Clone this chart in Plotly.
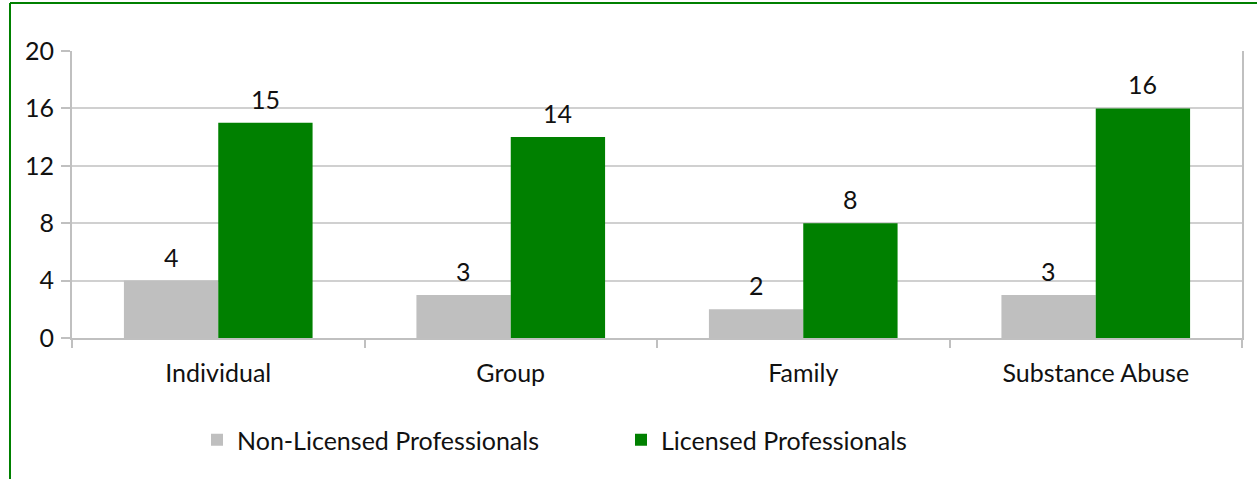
import plotly.graph_objects as go

categories = ["Individual", "Group", "Family", "Substance Abuse"]
non_licensed = [4, 3, 2, 3]
licensed = [15, 14, 8, 16]
y_ticks = [0, 4, 8, 12, 16, 20]

GREY = "#BFBFBF"
GREEN = "#008000"
AXIS = "#C0C0C0"
FONT = "Lato"
FS = 25
TXT = dict(family=FONT, size=FS, color="#111", weight=400)

W, H = 1257, 479
ML, MR, MT, MB = 72, 15, 51, 141
pw, ph = W - ML - MR, H - MT - MB
BAR_HALF = 47  # half of one bar's pixel width within a group

def px_x(x):
    return (x - ML) / pw

def px_y(y):
    return (H - MB - y) / ph

fig = go.Figure()
fig.add_bar(
    x=categories, y=non_licensed, name="Non-Licensed Professionals",
    marker=dict(color=GREY, line=dict(width=0)),
)
fig.add_bar(
    x=categories, y=licensed, name="Licensed Professionals",
    marker=dict(color=GREEN, line=dict(width=0)),
)

# value labels above each bar
for values, shift in ((non_licensed, -BAR_HALF), (licensed, BAR_HALF)):
    for cat, v in zip(categories, values):
        fig.add_annotation(
            x=cat, y=v, text=str(v), showarrow=False,
            xshift=shift, yshift=7, yanchor="bottom",
            font=TXT,
        )

fig.update_layout(
    width=W, height=H,
    margin=dict(l=ML, r=MR, t=MT, b=MB, autoexpand=False),
    paper_bgcolor="white", plot_bgcolor="white",
    barmode="group", bargap=0.355, bargroupgap=0,
    font=TXT,
    showlegend=True,
    legend=dict(
        orientation="h", x=px_x(197), xanchor="left",
        y=px_y(440), yanchor="middle",
        font=TXT,
        entrywidth=379, entrywidthmode="pixels",
        itemwidth=30, bgcolor="rgba(0,0,0,0)",
    ),
    xaxis=dict(
        showgrid=False, showline=True, linecolor=AXIS, linewidth=2,
        ticks="outside", tickson="boundaries", ticklen=8,
        tickcolor=AXIS, tickwidth=2, ticklabelstandoff=12,
        tickfont=TXT,
    ),
    yaxis=dict(
        range=[0, 20], tickvals=y_ticks,
        showgrid=True, gridcolor="#D0D0D0", gridwidth=2,
        showline=True, linecolor=AXIS, linewidth=2, mirror=True,
        ticks="outside", ticklen=9, tickcolor=AXIS, tickwidth=2,
        ticklabelstandoff=2, zeroline=False,
        tickfont=TXT,
    ),
)

# green frame around the chart (left and top edges)
fig.add_shape(type="line", xref="paper", yref="paper",
              x0=px_x(10), x1=px_x(10), y0=px_y(H + 5), y1=px_y(3),
              line=dict(color=GREEN, width=2))
fig.add_shape(type="line", xref="paper", yref="paper",
              x0=px_x(10), x1=px_x(W + 5), y0=px_y(3), y1=px_y(3),
              line=dict(color=GREEN, width=2))

fig.write_html("out.html")
